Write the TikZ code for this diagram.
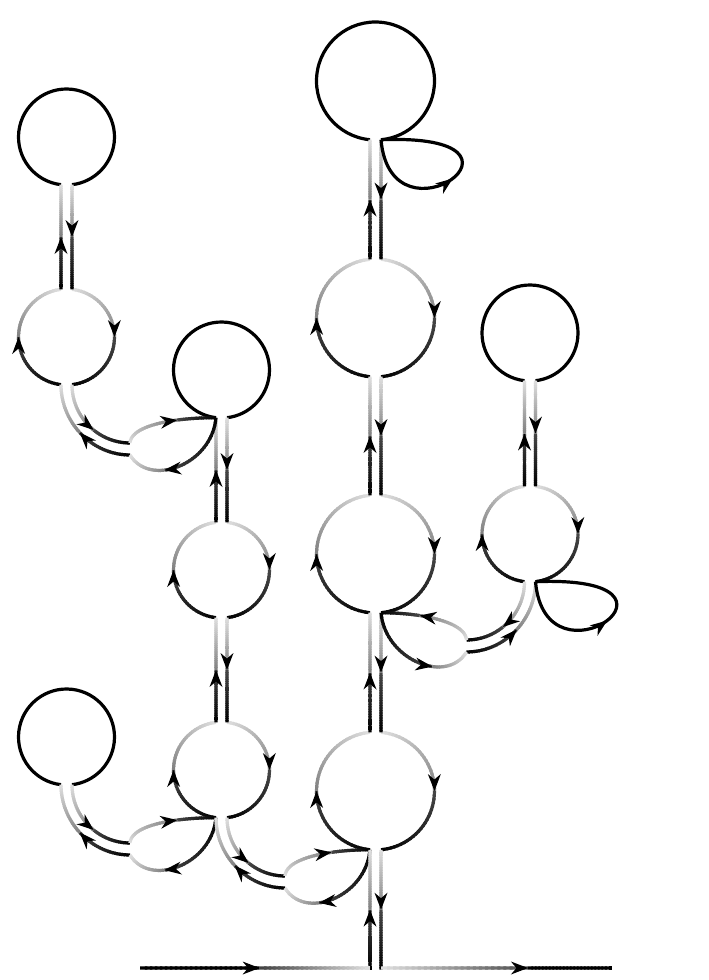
\documentclass[tikz,border=0pt]{standalone}
\usepackage{tikz}
\usetikzlibrary{calc}

\newcommand\nseg{24}
% arrow head with its point at #2, coming from #1
\newcommand\tipat[2]{%
  \coordinate (tb) at ($#2!17pt!#1$);
  \fill #2 -- ($(tb)!6.5pt!90:#2$) -- ($#2!11.5pt!#1$) -- ($(tb)!6.5pt!-90:#2$) -- cycle;}
% shaded run along the stored curve (s0)..(s3), from time #1 to #2
\newcommand\gradseg[4]{%
  \foreach \k in {1,...,\nseg}{%
    \pgfmathsetmacro\tA{(#1)+((#2)-(#1))*(\k-1)/\nseg}%
    \pgfmathsetmacro\tB{(#1)+((#2)-(#1))*min(\k+0.5,\nseg)/\nseg}%
    \pgfmathsetmacro\gval{(#3)+((#4)-(#3))*(\k-0.5)/\nseg}%
    \begin{pgfscope}%
      \pgfsetstrokecolor{black!\gval}%
      \pgfpathcurvebetweentime{\tA}{\tB}%
        {\pgfpointanchor{s0}{center}}{\pgfpointanchor{s1}{center}}%
        {\pgfpointanchor{s2}{center}}{\pgfpointanchor{s3}{center}}%
      \pgfusepath{stroke}%
    \end{pgfscope}%
  }%
}
% one strand: curve, arrow at time #5, shades #6->#7 then #8->#9
\newcommand\strand[9]{%
  \coordinate (s0) at #1; \coordinate (s1) at #2;
  \coordinate (s2) at #3; \coordinate (s3) at #4;
  \gradseg{0}{#5}{#6}{#7}\gradseg{#5}{1}{#8}{#9}%
  \pgfmathsetmacro\tq{#5-0.01}%
  \path (s0) .. controls (s1) and (s2) .. (s3)
    coordinate[pos=\tq] (ar0) coordinate[pos=#5] (ar1);
  \tipat{(ar0)}{(ar1)}
}
\newcommand\curveLD[5]{\strand{#1}{#2}{#3}{#4}{#5}{12}{50}{72}{100}}
\newcommand\curveDL[5]{\strand{#1}{#2}{#3}{#4}{#5}{100}{72}{50}{12}}
\newcommand\linestrand[7]{%
  \coordinate (la) at #1; \coordinate (lb) at #2;
  \strand{(la)}{($(la)!1/3!(lb)$)}{($(la)!2/3!(lb)$)}{(lb)}{#3}{#4}{#5}{#6}{#7}}
\newcommand\lineLD[2]{\linestrand{#1}{#2}{0.5}{12}{50}{72}{100}}
\newcommand\lineDL[2]{\linestrand{#1}{#2}{0.5}{100}{72}{50}{12}}
% shaded arc of a circle
\newcommand\gradarc[6]{%
  \foreach \k in {1,...,\nseg}{%
    \pgfmathsetmacro\angA{(#3)+((#4)-(#3))*(\k-1)/\nseg}%
    \pgfmathsetmacro\angB{(#3)+((#4)-(#3))*min(\k+0.5,\nseg)/\nseg}%
    \pgfmathsetmacro\gval{(#5)+((#6)-(#5))*(\k-0.5)/\nseg}%
    \draw[black!\gval] ($#1+(\angA:#2)$) arc[start angle=\angA,end angle=\angB,radius=#2];
  }%
}
% plain circle, open at the bottom
\newcommand\leaf[2]{%
  \pgfmathsetmacro\dg{asin(5.5/#2)}%
  \draw ($#1+(90+\dg:#2)$) arc[start angle=90+\dg,end angle=450-\dg,radius=#2];}
% shaded circle, open top and bottom
\newcommand\vertex[2]{%
  \pgfmathsetmacro\dg{asin(5.5/#2)}%
  \gradarc{#1}{#2}{\dg-90}{0}{12}{50}\gradarc{#1}{#2}{0}{90-\dg}{72}{100}%
  \tipat{($#1+(-1:#2)$)}{($#1+(0:#2)$)}
  \gradarc{#1}{#2}{90+\dg}{180}{100}{72}\gradarc{#1}{#2}{180}{270-\dg}{50}{12}%
  \tipat{($#1+(179:#2)$)}{($#1+(180:#2)$)}}
% double line between two circles
\newcommand\rung[4]{%
  \pgfmathsetmacro\dgA{asin(5.5/#2)}\pgfmathsetmacro\dgB{asin(5.5/#4)}%
  \lineLD{($#1+(90-\dgA:#2)$)}{($#3+(\dgB-90:#4)$)}%
  \lineDL{($#3+(270-\dgB:#4)$)}{($#1+(90+\dgA:#2)$)}}
% curved double line ending in a pinched loop
\newcommand\ribbon[4]{%
  \begin{scope}[shift={#1},xscale=#2]
    \curveLD{(5.5,0)}{(5.5,32)}{(31.5,58.3)}{(63.5,58.3)}{0.57}
    \curveDL{(63.5,70.3)}{(25.5,70.3)}{(-5.5,38.1)}{(-5.5,0)}{0.52}
    \curveLD{(63.5,58.3)}{(64.5,40.3)}{(#3-41,#4)}{(#3,#4)}{0.68}
    \curveDL{(#3,#4)}{(#3-4,#4+47)}{(83.5,103.3)}{(63.5,70.3)}{0.63}
  \end{scope}}
% black loop on a circle
\newcommand\tearloop[1]{%
  \draw #1 .. controls +(10,113) and +(178,-7) .. #1
    coordinate[pos=0.51] (ar1) coordinate[pos=0.5] (ar0);
  \tipat{(ar0)}{(ar1)}}

\begin{document}
\begin{tikzpicture}[x=1pt,y=-1pt,line width=3.2pt]
  \useasboundingbox (0,0) rectangle (709,980);

  % circle centres
  \coordinate (ctop)     at (375.5,81);
  \coordinate (mid1)     at (375.5,318);
  \coordinate (mid2)     at (375.5,554);
  \coordinate (mid3)     at (375.5,791);
  \coordinate (lefttop)  at (66.5,137);
  \coordinate (left1)    at (66.5,337);
  \coordinate (leftbot)  at (66.5,737);
  \coordinate (sectop)   at (221.5,370);
  \coordinate (sec1)     at (221.5,570);
  \coordinate (sec2)     at (221.5,770);
  \coordinate (righttop) at (530,333);
  \coordinate (right1)   at (530,534);

  \leaf{(ctop)}{59}
  \leaf{(lefttop)}{48}
  \leaf{(leftbot)}{48}
  \leaf{(sectop)}{48}
  \leaf{(righttop)}{48}

  \vertex{(mid1)}{59}
  \vertex{(mid2)}{59}
  \vertex{(mid3)}{59}
  \vertex{(left1)}{48}
  \vertex{(sec1)}{48}
  \vertex{(sec2)}{48}
  \vertex{(right1)}{48}

  \rung{(ctop)}{59}{(mid1)}{59}
  \rung{(mid1)}{59}{(mid2)}{59}
  \rung{(mid2)}{59}{(mid3)}{59}
  \rung{(lefttop)}{48}{(left1)}{48}
  \rung{(sectop)}{48}{(sec1)}{48}
  \rung{(sec1)}{48}{(sec2)}{48}
  \rung{(righttop)}{48}{(right1)}{48}

  \ribbon{($(left1)+(0,47.68)$)}{1}{149.5}{33}
  \ribbon{($(leftbot)+(0,47.68)$)}{1}{149.5}{33}
  \ribbon{($(sec2)+(0,47.68)$)}{1}{148.5}{32.06}
  \ribbon{($(right1)+(0,47.68)$)}{-1}{149}{31.06}

  \tearloop{($(ctop)+(84.65:59)$)}
  \tearloop{($(right1)+(83.42:48)$)}

  % external line
  \coordinate (inend)  at (140,968);
  \coordinate (outend) at (612,968);
  \lineDL{(370,969.6)}{($(mid3)+(95.35:59)$)}
  \lineLD{($(mid3)+(84.65:59)$)}{(381,969.6)}
  \linestrand{(inend)}{(370,968)}{0.52}{100}{100}{75}{12}
  \linestrand{(381,968)}{(outend)}{0.636}{12}{70}{100}{100}
\end{tikzpicture}
\end{document}
